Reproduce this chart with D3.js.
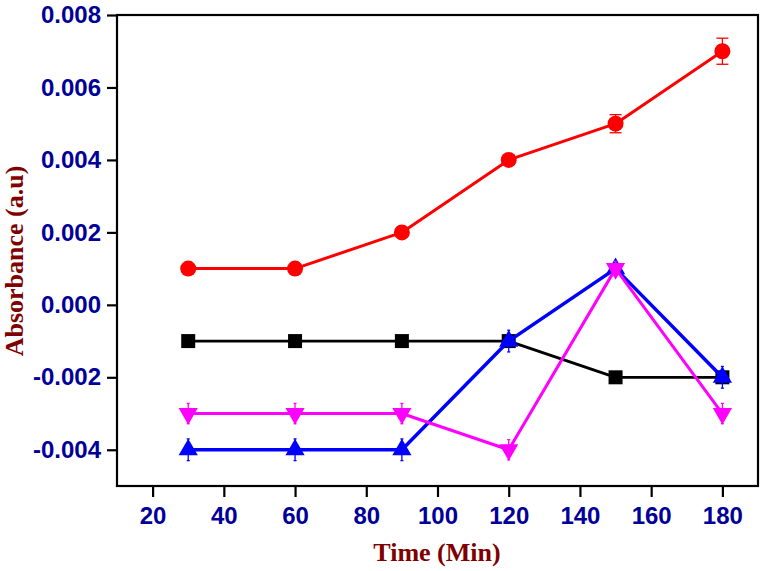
<!DOCTYPE html>
<html><head><meta charset="utf-8">
<script src="https://cdn.jsdelivr.net/npm/d3@7"></script>
<style>body{margin:0;background:#fff}svg{display:block}</style>
</head><body>
<script>
const times = [30, 60, 90, 120, 150, 180];
const seriesBlack   = [-0.001, -0.001, -0.001, -0.001, -0.002, -0.002];
const seriesRed     = [0.001, 0.001, 0.002, 0.004, 0.005, 0.007];
const errRed        = [0, 0, 0, 0.00012, 0.00025, 0.00036];
const seriesBlue    = [-0.004, -0.004, -0.004, -0.001, 0.001, -0.002];
const errBlue       = [0.0003, 0.0003, 0.0003, 0.0003, 0.0002, 0.0003];
const seriesMagenta = [-0.003, -0.003, -0.003, -0.004, 0.001, -0.003];
const errMagenta    = [0.00028, 0.00028, 0.00028, 0.00028, 0.0002, 0.00028];
const xTicks = [20, 40, 60, 80, 100, 120, 140, 160, 180];
const yTicks = [-0.004, -0.002, 0.000, 0.002, 0.004, 0.006, 0.008];
const xTitle = "Time (Min)";
const yTitle = "Absorbance (a.u)";

const W = 762, H = 571;
const m = {left: 117, top: 15, right: 762 - 758, bottom: 571 - 486};
const svg = d3.select("body").append("svg").attr("width", W).attr("height", H);
const x = d3.scaleLinear().domain([10, 190]).range([m.left, W - m.right]);
const y = d3.scaleLinear().domain([-0.005, 0.008]).range([H - m.bottom, m.top]);

const tickColor = "#000099";
const titleColor = "#800000";

// axes
const xAxis = svg.append("g").attr("transform", `translate(0,${H - m.bottom})`)
  .call(d3.axisBottom(x).tickValues(xTicks).tickFormat(d3.format("d")).tickSize(11).tickPadding(8));
const yAxis = svg.append("g").attr("transform", `translate(${m.left},0)`)
  .call(d3.axisLeft(y).tickValues(yTicks).tickFormat(d3.format(".3f")).tickSize(10).tickPadding(6));
[xAxis, yAxis].forEach(g => {
  g.select(".domain").remove();
  g.selectAll(".tick line").attr("stroke", "#000").attr("stroke-width", 2.2);
  g.selectAll(".tick text").attr("fill", tickColor)
    .style("font-family", "'Liberation Sans', Arial, sans-serif")
    .style("font-weight", "bold").style("font-size", "24px");
});
yAxis.selectAll(".tick text").text(d => d3.format(".3f")(d).replace("−", "-"));
xAxis.selectAll(".tick text").attr("dy", "0.8em");

// frame
svg.append("rect").attr("x", m.left).attr("y", m.top)
  .attr("width", W - m.right - m.left).attr("height", H - m.bottom - m.top)
  .attr("fill", "none").attr("stroke", "#000").attr("stroke-width", 2.2);

// titles
svg.append("text").attr("x", 437).attr("y", 561).attr("text-anchor", "middle")
  .attr("fill", titleColor).style("font-family", "'Liberation Serif', 'Times New Roman', serif")
  .style("font-weight", "bold").style("font-size", "26px").text(xTitle);
svg.append("text").attr("transform", "translate(23,261) rotate(-90)").attr("text-anchor", "middle")
  .attr("fill", titleColor).style("font-family", "'Liberation Serif', 'Times New Roman', serif")
  .style("font-weight", "bold").style("font-size", "26px").text(yTitle);

const line = d3.line().x(d => x(d.t)).y(d => y(d.v));
function drawSeries(vals, errs, color, lw, symbol, size, rot, capHalf) {
  const data = times.map((t, i) => ({t, v: vals[i], e: errs ? errs[i] : 0}));
  const g = svg.append("g");
  g.append("path").datum(data).attr("d", line).attr("fill", "none")
    .attr("stroke", color).attr("stroke-width", lw).attr("stroke-linejoin", "round");
  // error bars
  const eb = g.selectAll(".eb").data(data.filter(d => d.e > 0)).enter().append("g");
  eb.append("line").attr("x1", d => x(d.t)).attr("x2", d => x(d.t))
    .attr("y1", d => y(d.v - d.e)).attr("y2", d => y(d.v + d.e))
    .attr("stroke", color).attr("stroke-width", 1.3);
  [1, -1].forEach(s => {
    eb.append("line").attr("x1", d => x(d.t) - capHalf).attr("x2", d => x(d.t) + capHalf)
      .attr("y1", d => y(d.v + s * d.e)).attr("y2", d => y(d.v + s * d.e))
      .attr("stroke", color).attr("stroke-width", 1.3);
  });
  g.selectAll(".mk").data(data).enter().append("path")
    .attr("d", d3.symbol().type(symbol).size(size))
    .attr("transform", d => `translate(${x(d.t)},${y(d.v)}) rotate(${rot})`)
    .attr("fill", color);
}
drawSeries(seriesBlack, null, "#000000", 2.8, d3.symbolSquare, 196, 0, 0);
drawSeries(seriesRed, errRed, "#ff0000", 3, d3.symbolCircle, 201, 0, 6);
drawSeries(seriesBlue, errBlue, "#0000ff", 3.5, d3.symbolTriangle, 160, 0, 1.5);
drawSeries(seriesMagenta, errMagenta, "#ff00ff", 3, d3.symbolTriangle, 160, 180, 1.5);
</script>
</body></html>
